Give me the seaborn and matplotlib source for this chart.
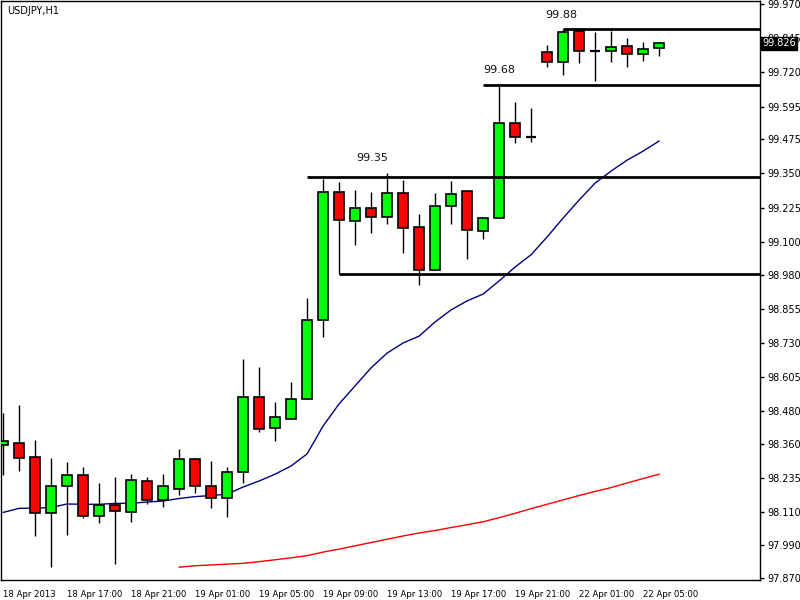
import numpy as np
import pandas as pd
import seaborn as sns
import matplotlib
matplotlib.use("Agg")
import matplotlib.pyplot as plt
import matplotlib.transforms as mtransforms

# USDJPY H1 candles (first bar = 18 Apr 13:00)
opens = [98.357, 98.364, 98.313, 98.108, 98.207, 98.247, 98.097, 98.137, 98.111, 98.225,
         98.155, 98.196, 98.305, 98.207, 98.163, 98.258, 98.532, 98.419, 98.452, 98.525,
         98.814, 99.282, 99.176, 99.224, 99.191, 99.279, 99.154, 98.997, 99.231, 99.286,
         99.140, 99.187, 99.535, 99.483, 99.794, 99.758, 99.871, 99.798, 99.798, 99.816,
         99.787, 99.809]
highs = [98.474, 98.503, 98.375, 98.309, 98.294, 98.276, 98.218, 98.240, 98.250, 98.240,
         98.250, 98.342, 98.309, 98.298, 98.276, 98.671, 98.642, 98.514, 98.587, 98.894,
         99.330, 99.319, 99.290, 99.282, 99.352, 99.326, 99.202, 99.279, 99.322, 99.286,
         99.165, 99.674, 99.611, 99.589, 99.820, 99.879, 99.879, 99.868, 99.871, 99.846,
         99.831, 99.831]
lows = [98.247, 98.261, 98.024, 97.910, 98.027, 98.090, 98.071, 97.921, 98.075, 98.141,
        98.130, 98.174, 98.181, 98.126, 98.093, 98.218, 98.404, 98.371, 98.452, 98.525,
        98.752, 98.982, 99.088, 99.132, 99.165, 99.059, 98.942, 98.997, 99.165, 99.037,
        99.110, 99.187, 99.461, 99.465, 99.740, 99.710, 99.754, 99.688, 99.758, 99.740,
        99.761, 99.780]
closes = [98.371, 98.309, 98.108, 98.207, 98.247, 98.097, 98.137, 98.115, 98.229, 98.155,
          98.207, 98.305, 98.207, 98.163, 98.258, 98.532, 98.415, 98.459, 98.525, 98.814,
          99.282, 99.180, 99.224, 99.191, 99.279, 99.150, 98.997, 99.231, 99.275, 99.143,
          99.187, 99.535, 99.483, 99.483, 99.758, 99.868, 99.798, 99.798, 99.813, 99.787,
          99.805, 99.826]

# moving averages (blue fast, red slow)
ma_fast = [98.110, 98.125, 98.126, 98.128, 98.141, 98.140, 98.140, 98.143, 98.144, 98.148,
           98.152, 98.161, 98.168, 98.172, 98.177, 98.203, 98.225, 98.250, 98.280, 98.324,
           98.426, 98.507, 98.573, 98.639, 98.693, 98.730, 98.755, 98.807, 98.851, 98.884,
           98.909, 98.957, 99.008, 99.053, 99.118, 99.187, 99.253, 99.315, 99.359, 99.399,
           99.432, 99.469]
ma_slow = [np.nan] * 11 + [
    97.910, 97.915, 97.918, 97.921, 97.924, 97.930, 97.937, 97.944, 97.952, 97.965,
    97.976, 97.988, 98.000, 98.012, 98.024, 98.035, 98.044, 98.055, 98.065, 98.076,
    98.091, 98.107, 98.124, 98.140, 98.156, 98.172, 98.187, 98.201, 98.218, 98.234,
    98.250]

time_labels = ["18 Apr 2013", "18 Apr 17:00", "18 Apr 21:00", "19 Apr 01:00",
               "19 Apr 05:00", "19 Apr 09:00", "19 Apr 13:00", "19 Apr 17:00",
               "19 Apr 21:00", "22 Apr 01:00", "22 Apr 05:00"]
price_ticks = [99.970, 99.845, 99.720, 99.595, 99.475, 99.350, 99.225, 99.100, 98.980,
               98.855, 98.730, 98.605, 98.480, 98.360, 98.235, 98.110, 97.990, 97.870]

# support / resistance lines drawn on the chart
levels = [99.879, 99.674, 99.338, 98.982]
level_from = [35, 30, 19, 21]
level_names = ["99.88", "99.68", "99.35", ""]
level_label_bar = [34.9, 31, 23.1, 0]
last_price = 99.826

df = pd.DataFrame({"bar": np.arange(len(opens)), "open": opens, "high": highs,
                   "low": lows, "close": closes, "fast": ma_fast, "slow": ma_slow})

sns.set_style("white")
plt.rcParams["font.family"] = ["DejaVu Sans"]

fig = plt.figure(figsize=(8, 6), dpi=100)
ax = fig.add_axes([1 / 800, 20 / 600, 759 / 800, 579 / 600])

# moving averages
sns.lineplot(data=df, x="bar", y="fast", color="#000080", lw=1, ax=ax, zorder=1)
sns.lineplot(data=df, x="bar", y="slow", color="#ff0000", lw=1, ax=ax, zorder=1)

# candles
up = df["close"] >= df["open"]
ax.vlines(df["bar"], df["low"], df["high"], color="black", lw=1, zorder=2)
body = (df["close"] - df["open"]).abs()
bottom = df[["open", "close"]].min(axis=1)
cols = np.where(up, "#00ff00", "#ff0000")
ax.bar(df["bar"], body, bottom=bottom, width=0.66, color=cols,
       edgecolor="black", linewidth=1.2, zorder=3)
doji = body < 0.001
ax.hlines(df["close"][doji], df["bar"][doji] - 0.33, df["bar"][doji] + 0.33,
          color="black", lw=1.6, zorder=4)

xmax = 47.3
# horizontal levels with their price labels
offsets = [14, 15, 19, 0]
for lvl, start, name, lb, off in zip(levels, level_from, level_names, level_label_bar, offsets):
    ax.hlines(lvl, start, xmax, color="black", lw=2, zorder=4)
    if name:
        ax.annotate(name, (lb, lvl), xytext=(0, off), textcoords="offset pixels",
                    ha="center", va="center", fontsize=8, color="#111111")

ax.set_xlim(-0.12, xmax)
ax.set_ylim(97.863, 99.981)

ax.set_xticks(np.arange(0, len(opens), 4))
ax.set_xticklabels(time_labels, ha="left", fontsize=6.1)
ax.yaxis.tick_right()
ax.set_yticks(price_ticks)
ax.set_yticklabels([f"{v:.3f}" for v in price_ticks], fontsize=7)
ax.tick_params(axis="x", direction="out", length=4, width=1, pad=3, colors="black")
ax.tick_params(axis="y", direction="out", length=3, width=1, pad=2, colors="black")
ax.set_xlabel("")
ax.set_ylabel("")
for s in ax.spines.values():
    s.set_visible(True)
    s.set_color("black")
    s.set_linewidth(1)

# current price tag
trans = mtransforms.blended_transform_factory(ax.transAxes, ax.transData)
ax.text(1.003, last_price, f"{last_price:.3f}", transform=trans, fontsize=7,
        color="white", ha="left", va="center", zorder=10,
        bbox=dict(boxstyle="square,pad=0.15", fc="black", ec="black"))

ax.text(0.008, 0.992, "USDJPY,H1", transform=ax.transAxes, fontsize=7,
        ha="left", va="top", color="black")

fig.savefig("out.png", dpi=100)
